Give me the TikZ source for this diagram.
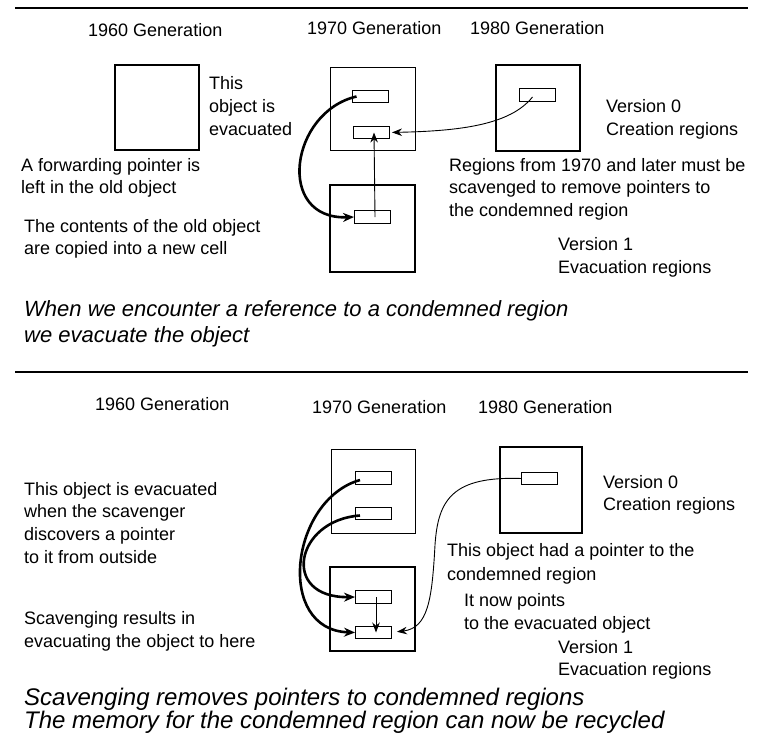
\documentclass[tikz,border=0pt]{standalone}
\usepackage{fontspec}
\setmainfont{Liberation Sans}
\usetikzlibrary{arrows.meta,calc}
\tikzset{
  lbl/.style={anchor=mid west, inner sep=0pt, font=\fontsize{18}{22}\selectfont},
  itl/.style={anchor=mid west, inner sep=0pt, font=\fontsize{22}{25}\selectfont\itshape},
  itlbig/.style={anchor=mid west, inner sep=0pt, font=\fontsize{24}{27}\selectfont\itshape},
  region/.style={draw, inner sep=0pt, outer sep=0pt, line width=#1},
  cell/.style={draw, inner sep=0pt, outer sep=0pt, line width=0.9pt, minimum width=36pt, minimum height=12.5pt},
  rule/.style={line width=2.6pt},
  thinarrow/.style={line width=0.9pt, -{Stealth[length=10pt,width=7.5pt]}},
  thickarrow/.style={line width=2.6pt, -{Stealth[length=11pt,width=9pt]}}
}
\begin{document}
\begin{tikzpicture}[x=1pt,y=-1pt]
\useasboundingbox (0,0) rectangle (762,742);
% rules
\coordinate (ruleAl) at (15,8);
\coordinate (ruleAr) at (748,8);
\coordinate (ruleBl) at (15,372);
\coordinate (ruleBr) at (748,372);
\draw[rule] (ruleAl) -- (ruleAr);
\draw[rule] (ruleBl) -- (ruleBr);

% ===== top panel =====
\node[lbl] (ga60) at (88,34) {1960 Generation};
\node[lbl] (ga70) at (307,32) {1970 Generation};
\node[lbl] (ga80) at (470,32) {1980 Generation};

\node[region=2pt, minimum width=84pt, minimum height=85pt] (b60) at (157,107.5) {};
\node[region=0.9pt, minimum width=85pt, minimum height=83pt] (b70u) at (372.5,108.5) {};
\node[region=2.5pt, minimum width=85pt, minimum height=87pt] (b70l) at (372.5,228.5) {};
\node[region=2pt, minimum width=84pt, minimum height=86pt] (b80) at (538,107.5) {};

\node[cell] (r1) at (370.5,96.5) {};
\node[cell] (r2) at (371,132.5) {};
\node[cell] (r3) at (372,217) {};
\node[cell] (r4) at (537.5,95) {};

\node[lbl] (ev1) at (209,87) {This};
\node[lbl] (ev2) at (209,110) {object is};
\node[lbl] (ev3) at (209,133) {evacuated};
\node[lbl] (va0) at (606,110) {Version 0};
\node[lbl] (va0b) at (606,133) {Creation regions};
\node[lbl] (fw1) at (21,169) {A forwarding pointer is};
\node[lbl] (fw2) at (21,191) {left in the old object};
\node[lbl] (ct1) at (24,230) {The contents of the old object};
\node[lbl] (ct2) at (24,252) {are copied into a new cell};
\node[lbl] (rg1) at (449,169) {Regions from 1970 and later must be};
\node[lbl] (rg2) at (449,191) {scavenged to remove pointers to};
\node[lbl] (rg3) at (449,214) {the condemned region};
\node[lbl] (va1) at (558,248) {Version 1};
\node[lbl] (va1b) at (558,271) {Evacuation regions};
\node[itl] (ita1) at (24,314) {When we encounter a reference to a condemned region};
\node[itl] (ita2) at (24,340) {we evacuate the object};

\draw[thickarrow] ([xshift=4pt]r1.west) .. controls (290,112) and (275,220) .. (r3.west);
\draw[thinarrow, shorten >=3pt] ([xshift=-5pt,yshift=-2pt]r4.center) .. controls (510,125) and (460,131) .. (r2.east);
\draw[thinarrow] ([xshift=3pt]r3.center) -- ([xshift=3pt]r2.center);

% ===== bottom panel =====
\node[lbl] (gb60) at (95,408) {1960 Generation};
\node[lbl] (gb70) at (312,411) {1970 Generation};
\node[lbl] (gb80) at (478,411) {1980 Generation};

\node[region=0.9pt, minimum width=84pt, minimum height=84pt] (d70u) at (373,491) {};
\node[region=2.5pt, minimum width=85pt, minimum height=84pt] (d70l) at (372.5,609) {};
\node[region=2pt, minimum width=82pt, minimum height=86pt] (d80) at (541,490) {};

\node[cell] (s1) at (373,478) {};
\node[cell] (s2) at (373,513.5) {};
\node[cell] (s3) at (373,597) {};
\node[cell] (s4) at (373,632.5) {};
\node[cell] (s5) at (539.5,478.5) {};

\node[lbl] (tb1) at (24,493) {This object is evacuated};
\node[lbl] (tb2) at (24,515) {when the scavenger};
\node[lbl] (tb3) at (24,538) {discovers a pointer};
\node[lbl] (tb4) at (24,561) {to it from outside};
\node[lbl] (vb0) at (603,486) {Version 0};
\node[lbl] (vb0b) at (603,508) {Creation regions};
\node[lbl] (hp1) at (447,554) {This object had a pointer to the};
\node[lbl] (hp2) at (447,578) {condemned region};
\node[lbl] (np1) at (464,604) {It now points};
\node[lbl] (np2) at (464,627) {to the evacuated object};
\node[lbl] (vb1) at (558,651) {Version 1};
\node[lbl] (vb1b) at (558,673) {Evacuation regions};
\node[lbl] (sr1) at (24,622) {Scavenging results in};
\node[lbl] (sr2) at (24,645) {evacuating the object to here};
\node[itlbig] (itb1) at (24,703) {Scavenging removes pointers to condemned regions};
\node[itlbig] (itb2) at (24,726) {The memory for the condemned region can now be recycled};

\draw[thickarrow] ([xshift=5pt,yshift=-2pt]s1.west) .. controls (290,500) and (275,630) .. (s4.west);
\draw[thickarrow] ([xshift=5pt,yshift=-2pt]s2.west) .. controls (295,520) and (280,598) .. (s3.west);
\draw[thinarrow] ([xshift=3pt]s3.center) -- ([xshift=3pt]s4.center);
\draw[thinarrow, shorten >=6pt] (s5.west) .. controls (452,476) and (438,500) .. (435,545) .. controls (432,600) and (428,628) .. (s4.east);
\end{tikzpicture}
\end{document}
